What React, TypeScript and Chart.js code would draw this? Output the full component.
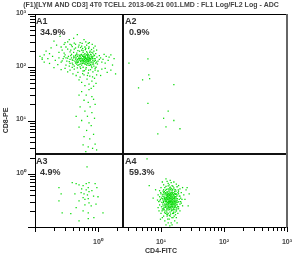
import React, { useEffect, useRef } from 'react';
import { Chart, registerables } from 'chart.js';
Chart.register(...registerables);

const TITLE = '(F1)[LYM AND CD3] 4T0 TCELL 2013-06-21 001.LMD : FL1 Log/FL2 Log - ADC';
const X_TITLE = 'CD4-FITC';
const Y_TITLE = 'CD8-PE';
const TICK_VALUES = [1, 10, 100, 1000];
const TICK_LABELS = ['10\u2070', '10\u00b9', '10\u00b2', '10\u00b3'];
const AXIS_MIN = 0.1;
const AXIS_MAX = 1000;
const GATE_X = 2.5;
const GATE_Y = 2.4;
const REGION_NAMES = ['A1', 'A2', 'A3', 'A4'];
const REGION_PERCENTS = ['34.9%', '0.9%', '4.9%', '59.3%'];

const a1Events: number[][] = [
  [0.25,380],[0.33,300],[0.41,350],[0.52,290],[0.38,260],[0.6,330],[0.29,270],[0.47,410],[0.7,280],[0.2,310],[0.55,250],[0.44,270],[0.35,330],[0.66,260],[0.22,260],
  [0.18,230],[0.27,210],[0.31,240],[0.36,195],[0.42,220],[0.48,205],[0.53,235],[0.58,190],[0.63,215],[0.75,200],[0.85,230],[0.24,190],[0.39,245],[0.46,185],[0.51,200],[0.57,225],[0.68,185],[0.33,220],[0.29,185],[0.44,230],[0.62,240],[0.8,190],[0.95,210],[0.15,200],[0.37,210],[0.49,240],[0.71,225],[0.26,240],[0.55,210],[0.41,190],
  [0.3,170],[0.34,160],[0.38,175],[0.41,150],[0.44,165],[0.47,140],[0.5,155],[0.53,170],[0.56,145],[0.6,160],[0.64,135],[0.68,150],[0.72,165],[0.77,140],[0.82,155],[0.88,130],[0.28,145],[0.32,130],[0.36,140],[0.39,120],[0.43,130],[0.46,115],[0.49,125],[0.52,135],[0.55,110],[0.58,125],[0.62,115],[0.66,125],[0.7,110],[0.74,120],[0.79,105],[0.85,115],[0.92,120],[0.26,125],[0.31,110],[0.35,105],[0.4,135],[0.45,150],[0.48,170],[0.51,145],[0.54,120],[0.57,160],[0.61,140],[0.65,170],[0.69,130],[0.73,145],[0.76,175],[0.83,135],[0.42,105],[0.47,160],[0.5,112],[0.53,128],[0.56,138],[0.59,150],[0.63,162],[0.67,142],[0.71,128],[0.44,142],[0.41,162],[0.38,150],[0.35,128],[0.33,148],[0.46,132],[0.49,146],[0.52,158],[0.55,132],[0.58,142],[0.6,118],[0.64,152],[0.57,118],[0.5,138],[0.47,122],[0.62,130],[0.54,150],[0.45,125],[0.66,110],[0.72,140],[0.39,138],[0.43,155],[0.37,165],[0.29,158],[0.8,125],[0.9,145],[1.0,130],[1.1,150],[0.98,115],[0.24,150],[0.21,135],[0.19,160],[0.16,145],[0.13,150],[0.14,125],[0.17,118],[0.23,112],[1.05,165],[1.2,140],[1.3,120],[1.5,155],[1.7,110],[1.25,175],[0.86,170],[0.93,100],[0.78,160],[0.6,172],[0.52,115],[0.48,108],[0.56,165],[0.68,118],[0.74,132],[0.4,112],[0.36,118],[0.27,132],[0.31,150],[0.63,145],[0.59,133],[0.51,168],[0.45,172],[0.69,158],[0.76,112],[0.82,145],
  [0.62,180],[0.66,195],[0.7,175],[0.74,190],[0.78,170],[0.83,185],[0.88,165],[0.92,180],[0.58,205],[0.64,225],[0.72,240],[0.79,215],[0.86,200],[0.9,250],[0.5,260],[0.56,280],[0.64,300],[0.42,285],[0.36,270],[0.3,290],[0.73,290],[0.81,270],[0.67,130],[0.71,150],[0.75,135],[0.79,150],[0.84,125],[0.87,145],[0.91,135],[0.96,155],[0.65,145],[0.69,140],[0.61,150],[0.57,132],[0.63,125],[0.68,165],[0.73,155],[0.77,125],[0.81,115],[0.86,105],[0.95,125],[1.05,140],[1.15,125],[1.35,160],[1.45,135],[1.6,170],[1.8,145],[0.53,145],[0.59,160],[0.55,175],[0.48,130],[0.44,120],[0.66,138],[0.7,120],[0.6,128],[0.64,115],[0.74,108],[0.8,98],[0.58,100],[0.52,102],[0.9,88],[0.17,180],[0.14,170],[0.12,160],[0.13,140],[0.62,155],[0.67,172],[0.7,135],[0.76,147],[0.83,160],
  [0.3,95],[0.36,88],[0.42,92],[0.48,80],[0.53,95],[0.58,85],[0.64,92],[0.7,78],[0.76,90],[0.83,82],[0.9,95],[1.0,85],[1.15,92],[1.4,80],[0.45,70],[0.52,65],[0.6,72],[0.67,60],[0.74,68],[0.8,55],[0.88,62],[0.95,72],[0.55,52],[0.62,45],[0.72,48],[0.78,40],[0.85,44],[0.5,58],[0.4,75],[0.33,82],[0.26,90],[0.2,98],[0.65,98],[0.57,76],[0.71,88],[1.1,70],[1.3,95],[1.6,88],[1.9,75],[0.47,97],[0.39,99],[0.61,86],[0.68,70],[0.93,50],[0.82,66],
  [0.55,35],[0.65,30],[0.72,38],[0.8,28],[0.6,24],[0.7,22],[0.85,25],[0.5,30],[0.75,18],[0.9,20],[0.62,15],[0.68,12],[0.8,14],[0.55,10],[0.72,9],[0.88,11],[0.5,7.5],[0.66,6.5],[0.78,8],[0.6,5],[0.74,4.5],[0.85,5.5],[0.58,3.5],[0.7,3.2],[0.82,3],[0.9,3.6],[0.64,2.6],[0.95,2.8],[0.45,12],[0.52,18]
];

const a2Events: number[][] = [
  [6.2,144],[6.4,72],[6.6,61],[5.1,58],[16,47],[6.2,21],[13,15],[11,11],[16,10],[12,7.6],[20,7],[8.9,5.6],[3.1,120],[4.4,41]
];

const a3Events: number[][] = [
  [0.67,1.35],[0.39,0.68],[0.45,0.65],[0.5,0.62],[0.58,0.6],[0.65,0.65],[0.72,0.68],[0.9,0.65],[0.24,0.55],[0.7,0.55],[0.96,0.55],[0.43,0.42],[0.54,0.44],[0.6,0.42],[0.72,0.46],[0.26,0.42],[0.58,0.355],[0.7,0.34],[1.0,0.37],[0.24,0.31],[0.5,0.31],[0.72,0.285],[0.62,0.26],[0.93,0.27],[0.45,0.23],[0.58,0.2],[0.7,0.185],[0.27,0.185],[0.37,0.178],[1.2,0.185],[0.5,0.13],[0.7,0.143],[0.86,0.15],[0.65,0.5],[0.8,0.48],[0.55,0.52],[0.68,0.4],[0.85,0.38],[0.62,0.33],[0.78,0.25]
];

const a4Events: number[][] = [
  [12,0.8],[14,0.75],[16,0.7],[13,0.66],[11,0.62],[15,0.6],[17.5,0.64],[12.5,0.72],[14.5,0.68],[19,0.6],[10.5,0.7],[13.5,0.62],
  [10,0.55],[11,0.5],[12,0.58],[13,0.52],[14,0.56],[15,0.48],[16,0.54],[17,0.5],[18,0.57],[20,0.52],[9.5,0.48],[12.5,0.46],[13.5,0.5],[14.5,0.53],[15.5,0.58],[11.5,0.55],[16.5,0.46],[10.8,0.47],[22,0.55],[25,0.5],[19,0.47],[13,0.59],[15,0.45],[11.8,0.49],
  [9,0.4],[10,0.42],[10.5,0.38],[11,0.44],[11.5,0.36],[12,0.41],[12.5,0.44],[13,0.37],[13.5,0.42],[14,0.39],[14.5,0.44],[15,0.36],[15.5,0.41],[16,0.38],[16.5,0.43],[17,0.37],[18,0.4],[19,0.42],[20,0.38],[21,0.44],[12.2,0.36],[13.2,0.4],[14.2,0.35],[15.2,0.43],[16.2,0.36],[11.2,0.4],[10.2,0.35],[13.8,0.45],[14.8,0.38],[12.8,0.39],[17.5,0.42],[9.5,0.37],[23,0.4],[15.8,0.4],[14.4,0.41],[13.6,0.36],[12.4,0.42],
  [9.2,0.3],[9.8,0.33],[10.3,0.29],[10.8,0.32],[11.3,0.34],[11.7,0.3],[12.1,0.28],[12.6,0.33],[13,0.31],[13.4,0.29],[13.8,0.34],[14.1,0.32],[14.5,0.3],[14.9,0.28],[15.3,0.33],[15.7,0.31],[16.1,0.29],[16.6,0.34],[17.2,0.3],[17.8,0.32],[18.5,0.29],[19.5,0.33],[12.3,0.31],[12.9,0.35],[13.3,0.33],[13.7,0.3],[14.3,0.34],[14.7,0.31],[15.1,0.29],[15.5,0.35],[11.5,0.32],[11,0.3],[10.6,0.34],[16.3,0.32],[16.9,0.28],[13.1,0.28],[14,0.29],[12.7,0.29],[15.9,0.34],[17.5,0.35],[18,0.31],[20.5,0.3],[21.5,0.33],[8.8,0.32],[13.5,0.32],[14.2,0.3],[12,0.33],[15,0.32],[11.9,0.35],[16.4,0.3],
  [9.5,0.26],[10.2,0.24],[10.7,0.27],[11.2,0.23],[11.8,0.26],[12.3,0.22],[12.8,0.25],[13.2,0.27],[13.7,0.23],[14.2,0.26],[14.7,0.24],[15.2,0.27],[15.7,0.22],[16.2,0.25],[16.8,0.27],[17.4,0.23],[18,0.26],[19,0.24],[20,0.27],[12.5,0.27],[13.5,0.25],[14.5,0.22],[15.5,0.26],[11.5,0.25],[10.5,0.22],[13,0.23],[14,0.24],[16.5,0.23],[12,0.24],[15,0.25],[17,0.25],[13.9,0.27],[22,0.25],[9,0.23],[14.8,0.265],[12.9,0.225],
  [9.3,0.2],[10,0.18],[10.8,0.21],[11.4,0.19],[12,0.2],[12.7,0.17],[13.3,0.21],[13.9,0.19],[14.6,0.2],[15.3,0.18],[16,0.21],[16.8,0.19],[17.6,0.2],[18.5,0.18],[11,0.22],[13,0.18],[15,0.21],[14.2,0.175],[12.4,0.19],[17,0.17],[20,0.2],[19,0.22],[10.4,0.2],[15.8,0.19],
  [10.5,0.15],[11.5,0.13],[12.5,0.16],[13.5,0.14],[14.5,0.12],[15.5,0.15],[16.5,0.13],[12,0.11],[13,0.12],[14,0.16],[11,0.16],[15,0.11],[17.5,0.15],[9.8,0.14],[18,0.12],[13.8,0.105],
  [10.7,0.41],[11.1,0.37],[11.6,0.43],[12.1,0.39],[12.6,0.37],[13.1,0.43],[13.6,0.39],[14.1,0.37],[14.6,0.4],[15.1,0.38],[15.6,0.44],[16.1,0.4],[16.6,0.37],[17.1,0.41],[17.8,0.38],[18.6,0.44],[10.9,0.29],[11.4,0.27],[11.9,0.31],[12.4,0.34],[12.9,0.27],[13.4,0.35],[13.9,0.31],[14.4,0.28],[14.9,0.33],[15.4,0.3],[15.9,0.27],[16.4,0.35],[16.9,0.32],[17.4,0.29],[18.2,0.34],[19.2,0.3],[11.3,0.21],[11.9,0.235],[12.5,0.21],[13.1,0.245],[13.7,0.215],[14.3,0.23],[14.9,0.205],[15.5,0.235],[16.1,0.215],[16.7,0.245],[17.3,0.21],[18.3,0.24],[12.2,0.3],[13.2,0.3],[14.8,0.35],[15.6,0.28],[12.7,0.41],[14.3,0.43],[16.8,0.42],[11.6,0.33],[13.5,0.28],[14.7,0.26],[15.3,0.24],[12.2,0.26],[16.3,0.27],[13.8,0.41],[11.8,0.44],[17.8,0.27],[10.8,0.25],[19.5,0.38],[20.5,0.35],[9.6,0.31],[9.9,0.44],[21,0.28],[13.3,0.47],[15.1,0.51],[12.3,0.51],[17.3,0.47],[14.2,0.5],[16.2,0.5],[11.3,0.46],[18.8,0.5],[13.8,0.54],[15.8,0.18],[13.6,0.165],[12.3,0.175],[17.9,0.22],[11.7,0.18],[14.9,0.15],[16.2,0.16],[12.8,0.14],
  [26,0.55],[28,0.42],[24,0.33],[8.2,0.5],[7.5,0.35],[6.5,0.6],[27,0.25],[6,1.9]
];

const POINT_COLOR = 'rgb(10,220,10)';

const overlayPlugin = {
  id: 'flowOverlay',
  afterDatasetsDraw(chart: any) {
    const { ctx, chartArea: a, scales } = chart;
    const xs = scales.x;
    const ys = scales.y;
    ctx.save();
    const gx = Math.round(xs.getPixelForValue(GATE_X));
    const gy = Math.round(ys.getPixelForValue(GATE_Y));
    ctx.strokeStyle = '#111';
    ctx.lineWidth = 2;
    ctx.beginPath();
    ctx.moveTo(gx, a.top);
    ctx.lineTo(gx, a.bottom);
    ctx.moveTo(a.left, gy);
    ctx.lineTo(a.right, gy);
    ctx.stroke();
    ctx.lineWidth = 1;
    ctx.strokeStyle = '#000';
    ctx.beginPath();
    ctx.moveTo(a.left + 0.5, a.top);
    ctx.lineTo(a.left + 0.5, a.bottom + 0.5);
    ctx.lineTo(a.right, a.bottom + 0.5);
    ctx.moveTo(a.left, a.top + 0.5);
    ctx.lineTo(a.right, a.top + 0.5);
    ctx.stroke();
    ctx.strokeStyle = '#666';
    ctx.lineWidth = 2;
    ctx.beginPath();
    ctx.moveTo(a.right, a.top);
    ctx.lineTo(a.right, a.bottom + 1);
    ctx.stroke();

    ctx.strokeStyle = '#000';
    ctx.lineWidth = 1;
    ctx.beginPath();
    for (let d = -1; d <= 3; d++) {
      for (let k = 1; k <= 9; k++) {
        const v = k * Math.pow(10, d);
        if (v < AXIS_MIN * 0.999 || v > AXIS_MAX * 1.001) continue;
        const major = k === 1;
        const py = Math.round(ys.getPixelForValue(v)) + 0.5;
        const ylen = major ? 7 : 5;
        ctx.moveTo(a.left - ylen, py);
        ctx.lineTo(a.left, py);
        const px = Math.round(xs.getPixelForValue(v)) + 0.5;
        const xlen = major ? 5 : 4;
        ctx.moveTo(px, a.bottom);
        ctx.lineTo(px, a.bottom + xlen);
      }
    }
    ctx.stroke();

    ctx.fillStyle = '#444';
    ctx.font = 'bold 7px "Liberation Sans", Arial, sans-serif';
    TICK_VALUES.forEach((v, i) => {
      const py = ys.getPixelForValue(v);
      ctx.textAlign = 'right';
      ctx.textBaseline = 'middle';
      ctx.fillText(TICK_LABELS[i], a.left - 9, py - 1);
      const px = xs.getPixelForValue(v);
      ctx.textAlign = 'center';
      ctx.fillText(TICK_LABELS[i], px, a.bottom + 15);
    });

    ctx.fillStyle = '#333';
    ctx.font = 'bold 7px "Liberation Sans", Arial, sans-serif';
    ctx.textAlign = 'center';
    ctx.textBaseline = 'middle';
    ctx.fillText(X_TITLE, (a.left + a.right) / 2, a.bottom + 24);
    ctx.save();
    ctx.translate(6, (a.top + a.bottom) / 2);
    ctx.rotate(-Math.PI / 2);
    ctx.fillText(Y_TITLE, 0, 0);
    ctx.restore();

    ctx.fillStyle = '#444';
    ctx.font = 'bold 7px "Liberation Sans", Arial, sans-serif';
    ctx.fillText(TITLE, 151, 5);

    ctx.fillStyle = '#333';
    ctx.font = 'bold 9px "Liberation Sans", Arial, sans-serif';
    ctx.textAlign = 'left';
    ctx.textBaseline = 'alphabetic';
    const lefts = [a.left + 1, gx + 2, a.left + 1, gx + 2];
    const tops = [a.top, a.top, gy, gy];
    REGION_NAMES.forEach((n, i) => {
      ctx.fillText(n, lefts[i], tops[i] + 10);
      ctx.fillText(REGION_PERCENTS[i], lefts[i] + 4, tops[i] + 21);
    });
    ctx.restore();
  },
};

export default function App() {
  const ref = useRef<HTMLCanvasElement | null>(null);
  useEffect(() => {
    if (!ref.current) return;
    const toPts = (arr: number[][]) => arr.map(([x, y]) => ({ x, y }));
    const mk = (data: number[][]) => ({
      data: toPts(data),
      backgroundColor: POINT_COLOR,
      borderWidth: 0,
      pointStyle: 'rect',
      pointRadius: 0.9,
    });
    const chart = new Chart(ref.current, {
      type: 'scatter',
      data: {
        datasets: [mk(a1Events), mk(a2Events), mk(a3Events), mk(a4Events)] as any,
      },
      options: {
        animation: false,
        responsive: false,
        events: [],
        layout: { padding: { left: 35, right: 7, top: 14, bottom: 31 } },
        plugins: { legend: { display: false }, tooltip: { enabled: false }, title: { display: false } },
        scales: {
          x: { type: 'logarithmic', min: AXIS_MIN, max: AXIS_MAX, display: false },
          y: { type: 'logarithmic', min: AXIS_MIN, max: AXIS_MAX, display: false },
        },
      },
      plugins: [overlayPlugin],
    });
    return () => chart.destroy();
  }, []);
  return (
    <div style={{ position: 'absolute', left: 0, top: 0, width: 294, height: 258, background: '#fff' }}>
      <canvas ref={ref} width={294} height={258} style={{ display: 'block' }} />
    </div>
  );
}
